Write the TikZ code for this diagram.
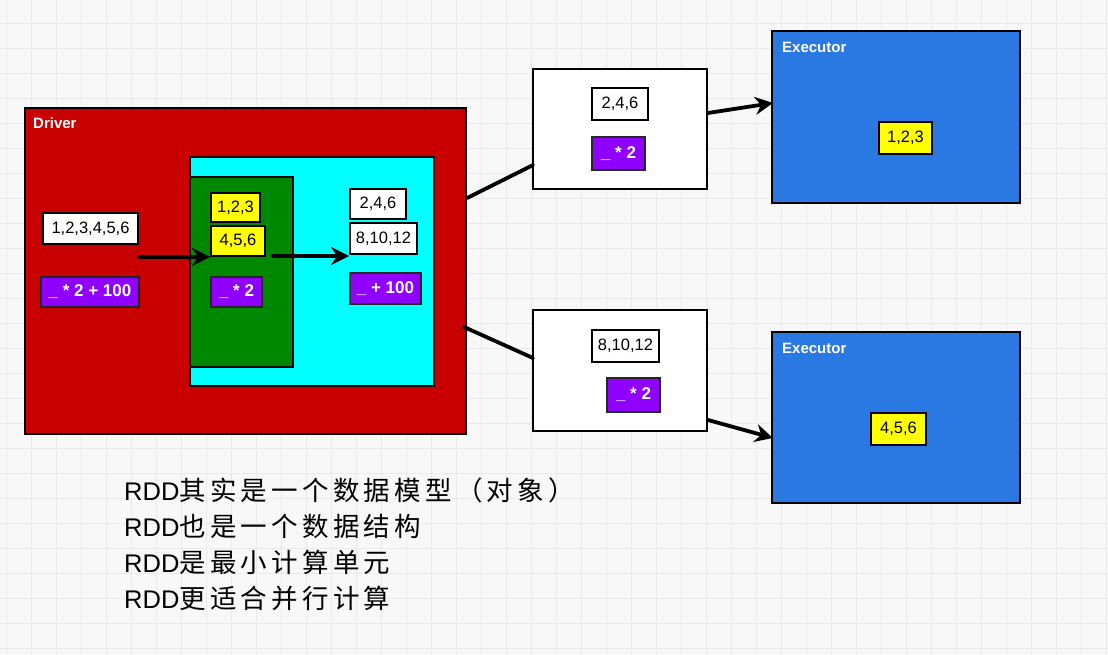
\documentclass[tikz,border=0pt]{standalone}
\usepackage{fontspec}
\setmainfont{Liberation Sans}
\newfontfamily\cjk[LetterSpace=16]{Noto Sans CJK SC}
\usetikzlibrary{arrows.meta}
\definecolor{bgc}{HTML}{F8F8F8}
\definecolor{gridc}{HTML}{EAEAEA}
\definecolor{drvred}{HTML}{C80000}
\definecolor{cyanc}{HTML}{00FFFF}
\definecolor{greenc}{HTML}{008800}
\definecolor{purp}{HTML}{8F00FF}
\definecolor{yel}{HTML}{FFFF00}
\definecolor{blu}{HTML}{2A78E2}
\tikzset{
  panel/.style={draw=black, line width=2pt, inner sep=0pt, rectangle},
  valbox/.style={draw=black, line width=1.8pt, fill=white, inner sep=0pt, rectangle,
    font=\fontsize{16.5}{16.5}\selectfont},
  ybox/.style={valbox, fill=yel},
  fbox/.style={draw=black!85, line width=1.4pt, fill=purp, inner sep=0pt, rectangle,
    text=white, font=\bfseries\fontsize{17}{17}\selectfont},
  title/.style={anchor=base west, inner sep=0pt, text=white, font=\bfseries\fontsize{15}{15}\selectfont},
  conn/.style={draw=black, line width=3.8pt, line cap=round},
  arr/.style={conn, -{Stealth[length=18pt,width=18pt]}},
  note/.style={anchor=base west, inner sep=0pt, font=\fontsize{25.5}{30}\selectfont}
}
\newcommand{\cjktxt}[1]{{\cjk\fontsize{26.5}{30}\selectfont #1}}
\begin{document}
\begin{tikzpicture}[x=1pt,y=-1pt]
\fill[bgc] (0,0) rectangle (1108,655);
\useasboundingbox (0,0) rectangle (1108,655);
\foreach \i in {0,...,44} \draw[gridc, line width=1.5pt] ({6.7+25*\i},0) -- ({6.7+25*\i},655);
\foreach \j in {0,...,26} \draw[gridc, line width=1.5pt] (0,{23.3+25*\j}) -- (1108,{23.3+25*\j});

% Driver
\node[panel, fill=drvred, minimum width=441pt, minimum height=326pt] (driver) at (245.5,271) {};
\node[title] (drvlbl) at (33,129) {Driver};
\node[panel, fill=cyanc, minimum width=244pt, minimum height=229pt] (cyanbox) at (312,271.5) {};
\node[panel, fill=greenc, minimum width=103pt, minimum height=190pt] (greenbox) at (241.5,272) {};

\node[valbox, minimum width=95pt, minimum height=31pt] (v6) at (90.5,228.5) {1,2,3,4,5,6};
\node[fbox, minimum width=98pt, minimum height=30pt] (f1) at (90,292) {\_ * 2 + 100};
\node[ybox, minimum width=49pt, minimum height=29pt] (y123) at (235.5,207.5) {1,2,3};
\node[ybox, minimum width=54pt, minimum height=30pt] (y456) at (238,241) {4,5,6};
\node[fbox, minimum width=51pt, minimum height=30pt] (f2) at (236.5,292) {\_ * 2};
\node[valbox, minimum width=56pt, minimum height=30pt] (w246) at (378,204) {2,4,6};
\node[valbox, minimum width=67pt, minimum height=31pt] (w81012) at (383.5,238.5) {8,10,12};
\node[fbox, minimum width=71pt, minimum height=31pt] (f3) at (385.5,288.5) {\_ + 100};

\coordinate (a1s) at (139,257);
\coordinate (a2s) at (273,256);
\draw[arr] (a1s) -- (y456.south west);
\draw[arr] (a2s) -- (w81012.south west |- a2s);

% task boxes
\node[panel, fill=white, minimum width=174pt, minimum height=120pt] (task1) at (620,129) {};
\node[valbox, minimum width=56pt, minimum height=32pt] (t1v) at (620,104) {2,4,6};
\node[fbox, minimum width=53pt, minimum height=33pt] (t1f) at (618.5,153.5) {\_ * 2};
\node[panel, fill=white, minimum width=174pt, minimum height=121pt] (task2) at (620,370.5) {};
\node[valbox, minimum width=67pt, minimum height=32pt] (t2v) at (625.5,346) {8,10,12};
\node[fbox, minimum width=53pt, minimum height=34pt] (t2f) at (633.5,395) {\_ * 2};

% executors
\node[panel, fill=blu, minimum width=248pt, minimum height=172pt] (exec1) at (896,117) {};
\node[title] (ex1lbl) at (782,53) {Executor};
\node[ybox, minimum width=53pt, minimum height=32pt] (e1y) at (905.5,138) {1,2,3};
\node[panel, fill=blu, minimum width=248pt, minimum height=171pt] (exec2) at (896,417.5) {};
\node[title] (ex2lbl) at (782,353) {Executor};
\node[ybox, minimum width=55pt, minimum height=32pt] (e2y) at (898.5,429) {4,5,6};

% connectors
\coordinate (d1) at (467,198);
\coordinate (d2) at (464,327);
\coordinate (k1in) at (533,165);
\coordinate (k2in) at (533,358);
\coordinate (k1out) at (708,113);
\coordinate (k2out) at (708,420);
\coordinate (x1in) at (773,103);
\coordinate (x2in) at (773,438);
\draw[conn] (d1) -- (k1in);
\draw[conn] (d2) -- (k2in);
\draw[arr] (k1out) -- (x1in);
\draw[arr] (k2out) -- (x2in);

% notes
\node[note] (n1) at (124,500) {RDD\cjktxt{其实是一个数据模型（对象）}};
\node[note] (n2) at (124,536) {RDD\cjktxt{也是一个数据结构}};
\node[note] (n3) at (124,572) {RDD\cjktxt{是最小计算单元}};
\node[note] (n4) at (124,608) {RDD\cjktxt{更适合并行计算}};
\end{tikzpicture}
\end{document}
